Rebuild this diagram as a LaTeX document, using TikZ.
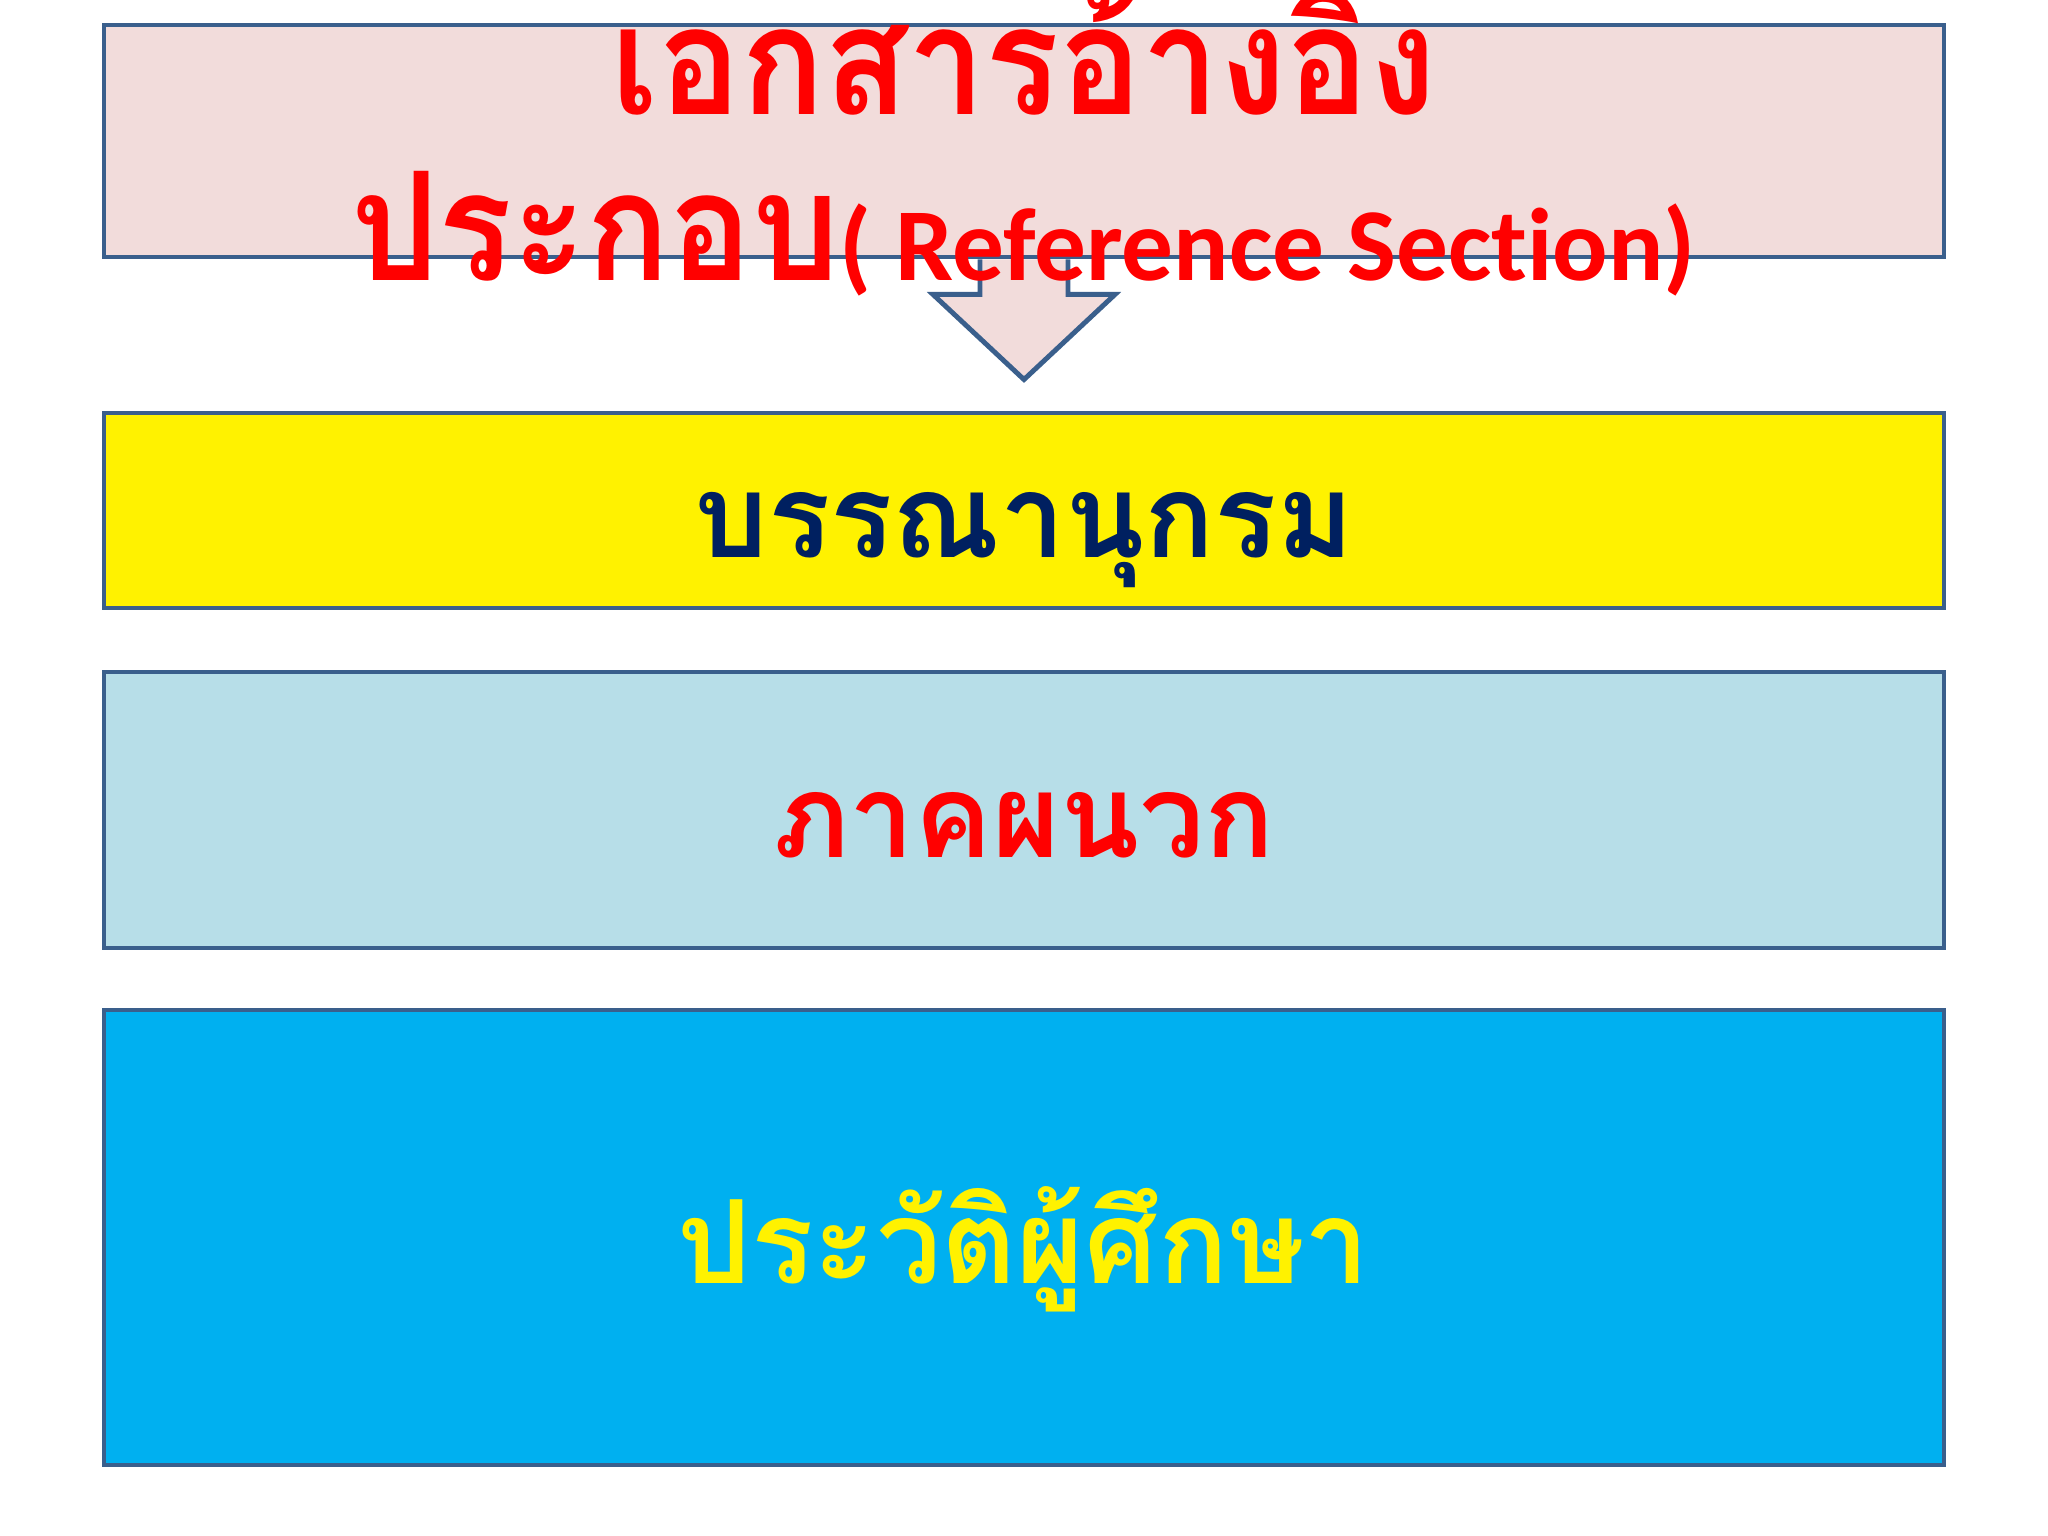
\documentclass[tikz,border=0pt]{standalone}
\usepackage{fontspec}
\setmainfont{Carlito}[Ligatures=CommonOff]
\newfontfamily\thaifont[Script=Thai]{Loma}
\newfontfamily\titlefont[Script=Thai,FakeStretch=0.91]{Loma}
\usepackage{tikz}
\usetikzlibrary{positioning}

\definecolor{edgeblue}{HTML}{3A5F8C}
\definecolor{pinkfill}{HTML}{F2DCDB}
\definecolor{paleblue}{HTML}{B7DEE8}
\definecolor{skyblue}{HTML}{00B0F0}
\definecolor{navytext}{HTML}{002060}

\begin{document}
\begin{tikzpicture}[
            box node/.style={rectangle,draw=edgeblue,line width=1.4pt,minimum width=18.4cm,inner sep=0pt},
            thai text/.style={font=\thaifont\bfseries\fontsize{33}{40}\selectfont},
            ]
            \def\W{20.48}
            \def\H{15.36}
            \useasboundingbox[fill=white] (0,0) rectangle (\W,-\H);

            \node[box node, fill=pinkfill, minimum height=2.32cm] (ref) at (10.24,-1.41) {};
            \node[box node, fill=yellow, minimum height=1.95cm] (bib) at (10.24,-5.105) {};
            \node[box node, fill=paleblue, minimum height=2.76cm] (app) at (10.24,-8.10) {};
            \node[box node, fill=skyblue, minimum height=4.55cm] (bio) at (10.24,-12.375) {};

            % block arrow under the first box
            \draw[edgeblue, fill=pinkfill, line width=1.4pt, line join=miter]
                ([xshift=-0.44cm]ref.south) -- ++(0,-0.35) -- ++(-0.47,0)
                -- ([yshift=0.31cm]bib.north) -- ([xshift=0.91cm,yshift=-0.35cm]ref.south)
                -- ++(-0.47,0) -- ++(0,0.35);

            \node[align=center, text=red, inner sep=0pt] (title) at (10.24,-1.42)
                {{\titlefont\bfseries\fontsize{43}{50}\selectfont เอกสารอ้างอิง}\\[0.52cm]
                 {\titlefont\bfseries\fontsize{43}{50}\selectfont ประกอบ}{\bfseries\fontsize{29.4}{35}\selectfont( Reference Section)}};
            \node[thai text, text=navytext] (bibtext) at (10.24,-5.40) {บรรณานุกรม};
            \node[thai text, text=red] (apptext) at (10.24,-8.25) {ภาคผนวก};
            \node[thai text, text=yellow] (biotext) at (10.24,-12.49) {ประวัติผู้ศึกษา};
\end{tikzpicture}
\end{document}
